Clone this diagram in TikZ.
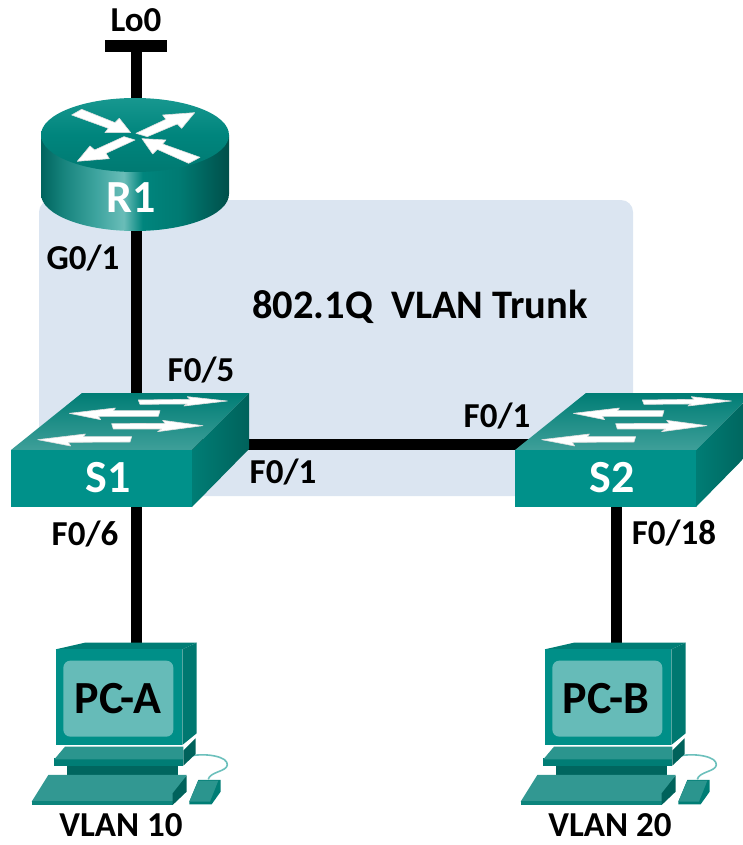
\documentclass[tikz,border=0pt]{standalone}
\usepackage{fontspec}
\setmainfont{Carlito}
\pgfdeclarelayer{bg}
\pgfsetlayers{bg,main}
\definecolor{trunkbg}{HTML}{DBE5F1}
\definecolor{tealfront}{HTML}{00918A}
\definecolor{tealdark}{HTML}{00625B}
\definecolor{tealmid}{HTML}{007D75}
\definecolor{teallight}{HTML}{3E9F99}
\definecolor{tealtop}{HTML}{17978F}
\definecolor{screenc}{HTML}{66BBB8}
\definecolor{cablec}{HTML}{6CC0BC}
\definecolor{rsA}{HTML}{00645E}
\definecolor{rsB}{HTML}{17847D}
\definecolor{rsC}{HTML}{3FA5A0}
\definecolor{rsD}{HTML}{6ABDB8}
\definecolor{rsE}{HTML}{00857D}
\definecolor{rsF}{HTML}{007A72}
\definecolor{rsG}{HTML}{004F4A}
\pgfdeclarehorizontalshading{routerside}{100bp}{
  color(0bp)=(rsA); color(25bp)=(rsA); color(31bp)=(rsB); color(40bp)=(rsC);
  color(47bp)=(rsD); color(52bp)=(rsE); color(62bp)=(rsF); color(75bp)=(rsG); color(100bp)=(rsG)}
\tikzset{
  x=1pt, y=-1pt,
  link/.style={line width=11pt, black},
  hit/.style={inner sep=0pt, outer sep=0pt},
  lbl/.style={anchor=base, inner sep=0pt, font=\fontsize{35}{37}\selectfont\bfseries, text=black},
  devw/.style={anchor=base, inner sep=0pt, font=\fontsize{46}{48}\selectfont\bfseries, text=white},
  pcname/.style={anchor=base, inner sep=0pt, font=\fontsize{46}{48}\selectfont\bfseries, text=black},
  whitearrow/.style={fill=white, draw=white!75!gray, line width=0.6pt, line join=round},
  router/.pic={
    \shade[shading=routerside] (41,135) -- (41,194)
      .. controls (41,214.4) and (83,231) .. (135,231)
      .. controls (187,231) and (229,214.4) .. (229,194) -- (229,135) -- cycle;
    \shade[top color=tealtop, bottom color=rsF, middle color=rsE] (135,135) ellipse [x radius=94pt, y radius=37pt];
    \begin{scope}[x=0.3333pt, y=-0.3333pt]
      \filldraw[whitearrow] (215,345)--(245,328)--(345,368)--(358,355)--(392,398)--(315,398)--(325,385)--cycle;
      \filldraw[whitearrow] (408,400)--(498,358)--(488,345)--(584,338)--(545,385)--(532,372)--(442,410)--cycle;
      \filldraw[whitearrow] (405,420)--(318,460)--(328,476)--(232,484)--(270,438)--(284,450)--(372,410)--cycle;
      \filldraw[whitearrow] (600,472)--(566,490)--(472,448)--(458,462)--(426,416)--(498,420)--(488,432)--cycle;
    \end{scope}
  },
  switchicon/.pic={
    \shade[top color=tealmid, bottom color=teallight] (82,393)--(249,393)--(192,450)--(11,450)--cycle;
    \fill[tealfront] (11,450) rectangle (192,507);
    \shade[left color=tealmid, right color=tealdark] (192,450)--(249,393)--(249,449)--(192,507)--cycle;
    \begin{scope}[x=0.3333pt, y=-0.3333pt, yshift=-370pt]
      \filldraw[whitearrow] (415,90)--(570,88)--(562,80)--(682,93)--(552,108)--(562,102)--(420,103)--cycle;
      \filldraw[whitearrow] (480,122)--(340,122)--(346,114)--(208,130)--(302,149)--(295,139)--(475,139)--cycle;
      \filldraw[whitearrow] (335,161)--(495,160)--(488,151)--(609,167)--(473,185)--(485,177)--(340,177)--cycle;
      \filldraw[whitearrow] (395,200)--(250,200)--(256,192)--(113,209)--(212,228)--(205,217)--(390,216)--cycle;
    \end{scope}
  },
  pcicon/.pic={
    \begin{scope}[xshift=20pt, yshift=-630pt, x=0.3333pt, y=-0.3333pt]
      % cable
      \draw[cablec, line width=1.6pt] (510,378) .. controls (560,368) and (625,380) .. (622,405)
         .. controls (620,425) and (570,425) .. (565,448);
      % mouse
      \fill[tealmid] (508,515)--(535,450)--(602,450)--(602,485)--(575,523)--(508,523)--cycle;
      \fill[teallight!70!tealmid] (508,515)--(535,452)--(595,452)--(570,515)--cycle;
      % neck
      \fill[tealdark!85!tealmid] (140,400) rectangle (475,440);
      % keyboard
      \fill[teallight!80!tealmid] (35,515)--(85,435)--(500,435)--(458,515)--cycle;
      \fill[tealmid!80!teallight] (35,512) rectangle (460,525);
      \fill[tealdark] (458,525)--(500,485)--(500,437)--(458,490)--cycle;
      % plate
      \fill[tealmid] (103,385) rectangle (490,407);
      \fill[tealdark] (490,407)--(527,372)--(527,325)--(490,362)--cycle;
      \fill[teallight!70!tealmid] (103,388)--(135,350)--(490,350)--(490,388)--cycle;
      % monitor
      \fill[tealmid] (107,58)--(195,38)--(530,38)--(487,58)--cycle;
      \fill[tealfront!90!tealmid] (107,58) rectangle (487,345);
      \fill[tealmid!80!tealdark] (487,58)--(530,38)--(530,310)--(487,345)--cycle;
      \fill[screenc, rounded corners=7pt] (130,92) rectangle (460,320);
    \end{scope}
  }
}
\begin{document}
\begin{tikzpicture}
\useasboundingbox (0,0) rectangle (742,845);

% device icons
\pic at (0,0) {router};
\pic at (0,0) {switchicon};
\pic at (504,0) {switchicon};
\pic at (0,0) {pcicon};
\pic at (489,0) {pcicon};

% named device anchors, centred on the links
\node[hit, fill=black, minimum width=62pt, minimum height=12pt] (Lo0) at (136,46) {};
\node[hit, minimum width=188pt, minimum height=133pt] (R1) at (136,165) {};
\node[hit, minimum width=220pt, minimum height=114pt] (S1) at (136,444) {};
\node[hit, minimum width=220pt, minimum height=114pt] (S2) at (616,444) {};
\node[hit, minimum width=140pt, minimum height=110pt] (PCA) at (136,700) {};
\node[hit, minimum width=140pt, minimum height=110pt] (PCB) at (616,700) {};

% background and links
\begin{pgfonlayer}{bg}
  \fill[trunkbg, rounded corners=12pt] (39,200) rectangle (633,496);
  \draw[link] (Lo0.center) -- (R1.center);
  \draw[link] (R1.center) -- (S1.center);
  \draw[link] (S1.center) -- (S2.center);
  \draw[link] (S1.center) -- (PCA.center);
  \draw[link] (S2.center) -- (PCB.center);
\end{pgfonlayer}

% device names
\node[devw] (tR1) at (131,212) {R1};
\node[devw] (tS1) at (108,492) {S1};
\node[devw] (tS2) at (612,492) {S2};
\node[pcname] (tPCA) at (118,713) {PC-A};
\node[pcname] (tPCB) at (606,713) {PC-B};

% labels
\node[lbl] (lLo) at (136,32) {Lo0};
\node[lbl] (lG) at (83,269) {G0/1};
\node[lbl] (lF5) at (201,381) {F0/5};
\node[lbl] (lF1b) at (497,427) {F0/1};
\node[lbl] (lF1a) at (283,483) {F0/1};
\node[lbl] (lF6) at (85,545) {F0/6};
\node[lbl] (lF18) at (674,544) {F0/18};
\node[lbl] (lV10) at (121,836) {VLAN 10};
\node[lbl] (lV20) at (610,836) {VLAN 20};
\node[lbl, font=\fontsize{40.5}{42}\selectfont\bfseries] (trunk) at (420,318) {802.1Q\ \ VLAN Trunk};
\end{tikzpicture}
\end{document}
